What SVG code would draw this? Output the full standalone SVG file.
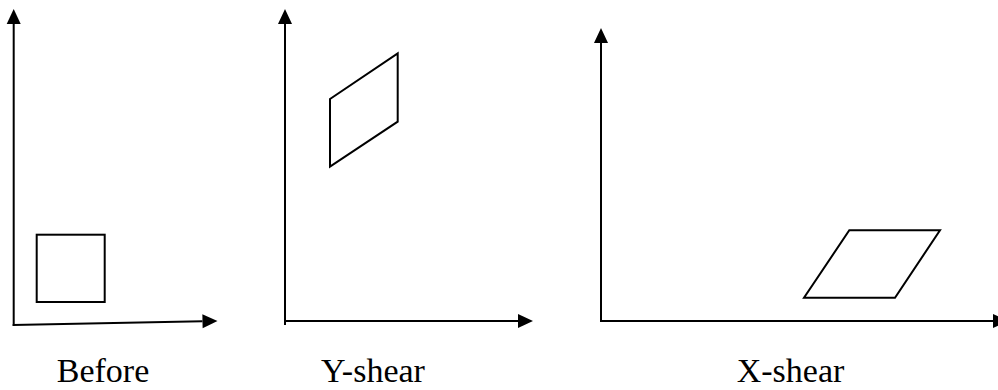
<svg xmlns="http://www.w3.org/2000/svg" width="998" height="390" viewBox="0 0 998 390">
<defs>
<marker id="ah" markerUnits="userSpaceOnUse" markerWidth="15" markerHeight="14" refX="0" refY="7" orient="auto" overflow="visible">
<path d="M0,0 L15,7 L0,14 z" fill="#000"/>
</marker>
<style>
.ax{stroke:#000;stroke-width:2;fill:none;marker-end:url(#ah)}
.sh{stroke:#000;stroke-width:2;fill:none;stroke-linejoin:miter}
.lb{font-family:"Liberation Serif","Times New Roman",serif;font-size:34px;fill:#000}
</style>
</defs>
<g id="connectors">
<line class="ax" x1="13.7" y1="326" x2="13.7" y2="24"/>
<line class="ax" x1="12.7" y1="325" x2="202.5" y2="321.2"/>
<line class="ax" x1="285" y1="325" x2="285" y2="24"/>
<line class="ax" x1="284" y1="321" x2="518" y2="321"/>
<line class="ax" x1="601" y1="322" x2="601" y2="43"/>
<line class="ax" x1="600" y1="321" x2="993" y2="321"/>
</g>
<g id="before">
<rect class="sh" x="36.7" y="234.7" width="68" height="67.3"/>
<text class="lb" x="103" y="382" text-anchor="middle">Before</text>
</g>
<g id="yshear">
<polygon class="sh" points="330,99 397.7,53.3 397.7,121.7 330,166.7"/>
<text class="lb" x="373" y="382" text-anchor="middle">Y-shear</text>
</g>
<g id="xshear">
<polygon class="sh" points="804,297.7 895,297.7 940,230.3 849.3,230.3"/>
<text class="lb" x="790.5" y="382" text-anchor="middle">X-shear</text>
</g>
</svg>
